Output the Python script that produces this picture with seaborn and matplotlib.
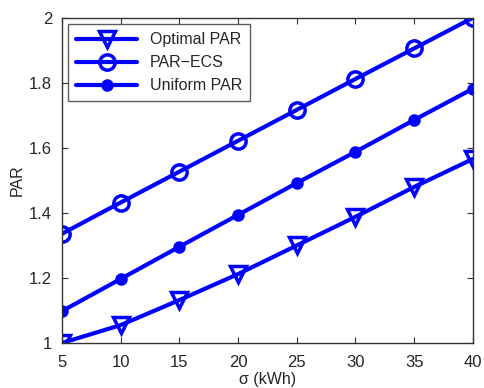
import matplotlib
matplotlib.use("Agg")
import matplotlib.pyplot as plt
import pandas as pd
import seaborn as sns

sigma = [5, 10, 15, 20, 25, 30, 35, 40]
optimal_par = [1.0, 1.055, 1.132, 1.212, 1.30, 1.388, 1.48, 1.566]
par_ecs = [1.336, 1.432, 1.527, 1.622, 1.717, 1.812, 1.906, 2.0]
uniform_par = [1.098, 1.197, 1.296, 1.394, 1.492, 1.588, 1.686, 1.782]

series = ["Optimal PAR", "PAR\u2212ECS", "Uniform PAR"]
markers = {"Optimal PAR": "v", "PAR\u2212ECS": "o", "Uniform PAR": "o"}

df = pd.DataFrame({
    "sigma": sigma * 3,
    "PAR": optimal_par + par_ecs + uniform_par,
    "series": [s for s in series for _ in sigma],
})

sns.set_style("white")
plt.rcParams["font.family"] = ["Liberation Sans", "DejaVu Sans"]

fig = plt.figure(figsize=(4.84, 3.88), dpi=100)
ax = fig.add_axes([0.128, 0.116, 0.849, 0.838])

blue = "#0000ff"
for name in series:
    sub = df[df["series"] == name]
    filled = name == "Uniform PAR"
    sns.lineplot(data=sub, x="sigma", y="PAR", ax=ax, color=blue, linewidth=3,
                 marker=markers[name], markersize=11 if not filled else 6.5,
                 markerfacecolor=blue if filled else "none",
                 markeredgecolor=blue, markeredgewidth=2.5, label=name)

ax.set_xlim(5, 40)
ax.set_ylim(1, 2)
ax.set_xticks(sigma)
ax.set_yticks([1, 1.2, 1.4, 1.6, 1.8, 2])
ax.set_yticklabels(["1", "1.2", "1.4", "1.6", "1.8", "2"])
ax.set_xlabel("\u03c3 (kWh)", fontsize=11.5, labelpad=1)
ax.set_ylabel("PAR", fontsize=11.5, labelpad=3)
ax.tick_params(direction="in", length=4, labelsize=12, top=True, right=True,
               bottom=True, left=True, color="#333333", pad=7)
ax.tick_params(axis="x", pad=9)
for sp in ax.spines.values():
    sp.set_color("#333333")
    sp.set_linewidth(1)

leg = ax.legend(loc="upper left", fontsize=11.5, frameon=True, fancybox=False,
                edgecolor="#333333", borderaxespad=0.4, handlelength=3.8,
                borderpad=0.5, labelspacing=0.5)
leg.get_frame().set_linewidth(1)

fig.savefig("out.png", dpi=100)
